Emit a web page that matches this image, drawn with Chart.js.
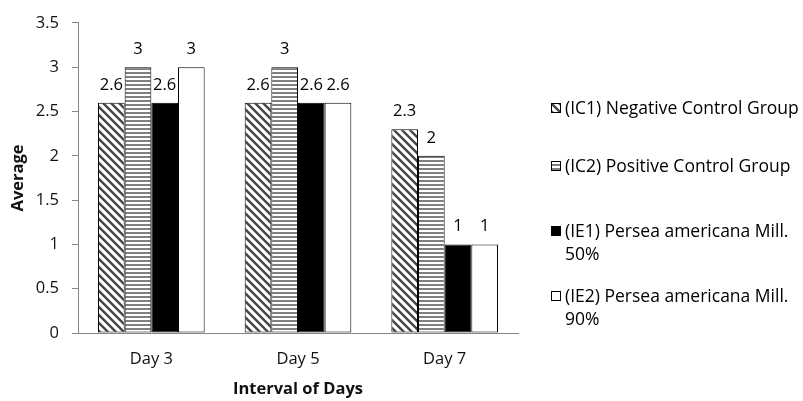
<!DOCTYPE html>
<html>
<head>
<meta charset="utf-8">
<script src="https://cdn.jsdelivr.net/npm/chart.js@4.4.0/dist/chart.umd.min.js"></script>
<style>
  html, body { margin: 0; padding: 0; background: #fff; }
  #wrap { width: 803px; height: 401px; }
</style>
</head>
<body>
<div id="wrap"><canvas id="chart" width="803" height="401"></canvas></div>
<script>
const days = ['Day 3', 'Day 5', 'Day 7'];
const seriesLabels = [
  ['(IC1) Negative Control Group'],
  ['(IC2) Positive Control Group'],
  ['(IE1) Persea americana Mill.', '50%'],
  ['(IE2) Persea americana Mill.', '90%']
];
const ic1 = [2.6, 2.6, 2.3];
const ic2 = [3, 3, 2];
const ie1 = [2.6, 2.6, 1];
const ie2 = [3, 2.6, 1];
const yTicks = [0, 0.5, 1, 1.5, 2, 2.5, 3, 3.5];

const FONT = '"Open Sans"';
const SIZE = 16.5;

function diagPattern() {
  const c = document.createElement('canvas');
  c.width = 8; c.height = 8;
  const g = c.getContext('2d');
  g.fillStyle = '#fff';
  g.fillRect(0, 0, 8, 8);
  g.strokeStyle = '#454545';
  g.lineWidth = 2.4;
  g.beginPath();
  g.moveTo(-2, -2); g.lineTo(10, 10);
  g.moveTo(-2, 6); g.lineTo(2, 10);
  g.moveTo(6, -2); g.lineTo(10, 2);
  g.stroke();
  return g.createPattern(c, 'repeat');
}

function hPattern() {
  const c = document.createElement('canvas');
  c.width = 4; c.height = 4;
  const g = c.getContext('2d');
  g.fillStyle = '#fff';
  g.fillRect(0, 0, 4, 4);
  g.fillStyle = '#7f7f7f';
  g.fillRect(0, 0, 4, 2);
  return g.createPattern(c, 'repeat');
}

const fills = [diagPattern(), hPattern(), '#000', '#fff'];
const values = [ic1, ic2, ie1, ie2];

// value labels above each bar
const valueLabels = {
  id: 'valueLabels',
  afterDatasetsDraw(chart) {
    const ctx = chart.ctx;
    ctx.save();
    ctx.font = SIZE + 'px ' + FONT;
    ctx.fillStyle = '#000';
    ctx.textAlign = 'center';
    ctx.textBaseline = 'alphabetic';
    chart.data.datasets.forEach((ds, i) => {
      chart.getDatasetMeta(i).data.forEach((bar, j) => {
        ctx.fillText(String(ds.data[j]), bar.x, bar.y - 13);
      });
    });
    ctx.restore();
  }
};

// legend on the right, Excel style
const sideLegend = {
  id: 'sideLegend',
  afterDraw(chart) {
    const ctx = chart.ctx;
    const rows = [108, 166, 231, 296];
    ctx.save();
    ctx.font = '17.5px ' + FONT;
    ctx.textBaseline = 'middle';
    chart.data.datasets.forEach((ds, i) => {
      const y = rows[i];
      ctx.fillStyle = ds.backgroundColor;
      ctx.fillRect(551, y - 5, 10, 10);
      ctx.strokeStyle = '#000';
      ctx.lineWidth = 1;
      ctx.strokeRect(551.5, y - 4.5, 9, 9);
      ctx.fillStyle = '#000';
      seriesLabels[i].forEach((line, k) => {
        ctx.fillText(line, 565, y + 1 + k * 23);
      });
    });
    ctx.restore();
  }
};

new Chart(document.getElementById('chart'), {
  type: 'bar',
  data: {
    labels: days,
    datasets: values.map((v, i) => ({
      label: seriesLabels[i].join(' '),
      data: v,
      backgroundColor: fills[i],
      borderColor: '#000',
      borderWidth: 1,
      borderSkipped: false,
      categoryPercentage: 0.727,
      barPercentage: 1
    }))
  },
  options: {
    responsive: false,
    animation: false,
    layout: { padding: { top: 17, right: 285, left: 0, bottom: 0 } },
    plugins: {
      legend: { display: false },
      tooltip: { enabled: false }
    },
    scales: {
      x: {
        grid: { display: false, drawTicks: false },
        border: { display: true, color: '#868686', width: 1 },
        ticks: { color: '#111', font: { family: FONT, size: SIZE }, padding: 16 },
        title: {
          display: true,
          text: 'Interval of Days',
          color: '#111',
          font: { family: FONT, size: SIZE, weight: 'bold' },
          padding: { top: 0, bottom: 2 }
        },
        afterFit(scale) { scale.height = 68; }
      },
      y: {
        min: 0,
        max: 3.5,
        afterBuildTicks(scale) { scale.ticks = yTicks.map(v => ({ value: v })); },
        grid: { drawOnChartArea: false, drawTicks: true, tickLength: 6, color: '#868686' },
        border: { display: true, color: '#868686', width: 1 },
        ticks: {
          color: '#111',
          font: { family: FONT, size: SIZE },
          padding: 13,
          callback: v => String(v)
        },
        title: {
          display: true,
          text: 'Average',
          color: '#111',
          font: { family: FONT, size: SIZE, weight: 'bold' },
          padding: { top: 8, bottom: 0 }
        },
        afterFit(scale) { scale.width = 78; }
      }
    }
  },
  plugins: [valueLabels, sideLegend]
});
</script>
</body>
</html>
